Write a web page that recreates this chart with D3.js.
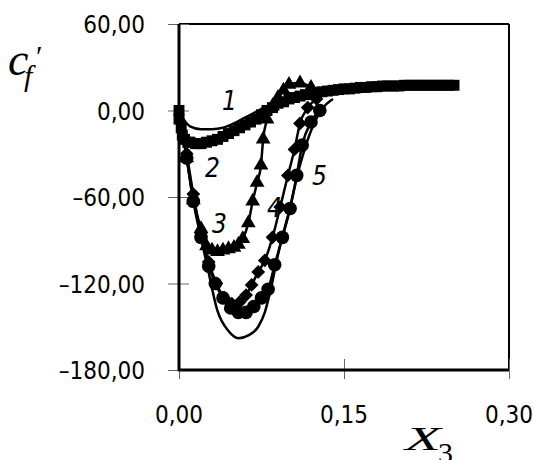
<!DOCTYPE html>
<html>
<head>
<meta charset="utf-8">
<script src="https://cdn.jsdelivr.net/npm/d3@7"></script>
<style>
  body { margin: 0; background: #fff; }
  .tick-lbl { font-family: "DejaVu Sans Condensed", "DejaVu Sans", sans-serif; font-stretch: condensed; font-size: 24px; fill: #000; }
  .curve-lbl { font-family: "DejaVu Sans Condensed", "DejaVu Sans", sans-serif; font-stretch: condensed; font-style: italic; font-size: 26px; fill: #000; }
  .ax-lbl { font-family: "Liberation Serif", "DejaVu Serif", serif; fill: #000; }
</style>
</head>
<body>
<div id="chart"></div>
<script>
// #####################################################
// Data
//
var xTicks = [0, 0.15, 0.30];
var yTicks = [60, 0, -60, -120, -180];

// squares
var sqX = [0, 0, 0.002, 0.003, 0.005, 0.008, 0.01, 0.015, 0.02, 0.025, 0.03, 0.035, 0.04, 0.045, 0.05, 0.055, 0.06, 0.065, 0.07, 0.075, 0.08, 0.085, 0.09, 0.095, 0.1, 0.105, 0.11, 0.115, 0.12, 0.125, 0.13, 0.135, 0.14, 0.145, 0.15, 0.155, 0.16, 0.165, 0.17, 0.175, 0.18, 0.185, 0.19, 0.195, 0.2, 0.205, 0.21, 0.215, 0.22, 0.225, 0.23, 0.235, 0.24, 0.245, 0.25];
var sqY = [0, -6, -12, -17, -20, -22, -22, -23, -23, -22, -21, -20, -18, -16, -14, -12, -10, -8, -6, -3, 0, 2, 5, 6, 8, 9, 10, 11, 12, 12.5, 13, 13.5, 14, 14.5, 15, 15, 15.5, 16, 16, 16.5, 16.5, 17, 17, 17, 17, 17.5, 17.5, 17.5, 17.5, 17.5, 17.5, 17.5, 17.5, 17.5, 17.5];

// triangles
var triX = [0.007, 0.013, 0.02, 0.025, 0.03, 0.035, 0.04, 0.045, 0.05, 0.054, 0.058, 0.063, 0.067, 0.071, 0.0745, 0.0765, 0.08, 0.085, 0.09, 0.095, 0.1, 0.11, 0.12];
var triY = [-33, -62, -82, -94, -97, -98, -97, -96, -95, -93, -89, -78, -63, -50, -38, -20, -6, 3, 9, 14, 18, 19, 16];

// circles
var cirX = [0.007, 0.013, 0.02, 0.027, 0.033, 0.04, 0.047, 0.054, 0.061, 0.068, 0.075, 0.081, 0.087, 0.094, 0.101, 0.107, 0.112, 0.12, 0.128];
var cirY = [-33, -63, -88, -108, -120, -130, -137, -140, -140, -136, -130, -124, -107, -88, -68, -45, -24, -8, 0];

// diamonds
var diaX = [0.007, 0.013, 0.02, 0.027, 0.034, 0.041, 0.048, 0.055, 0.061, 0.066, 0.072, 0.078, 0.085, 0.092, 0.099, 0.105, 0.11, 0.117, 0.125];
var diaY = [-30, -58, -85, -105, -120, -130, -134, -133, -128, -121, -112, -104, -88, -67, -45, -27, -9, 2, 8];

// curves without own markers
var c1X = [0, 0.005, 0.01, 0.02, 0.03, 0.04, 0.05, 0.06, 0.07, 0.08, 0.09, 0.1, 0.12, 0.15, 0.2, 0.25];
var c1Y = [0, -7, -11, -13, -13, -12, -9, -5, -1, 3, 6, 9, 12, 15, 17, 18];
var c3X = [0, 0.007, 0.013, 0.02, 0.026, 0.035, 0.045, 0.054, 0.063, 0.072, 0.078, 0.084, 0.09, 0.1, 0.11, 0.12, 0.13, 0.14];
var c3Y = [0, -33, -60, -88, -109, -139, -153, -158, -156, -150, -140, -122, -100, -70, -38, -14, 1, 8];

var curveLabels = ['1', '2', '3', '4', '5'];

// #####################################################
// Plot
//
var width = 533, height = 460;
var svg = d3.select('#chart').append('svg')
    .attr('width', width)
    .attr('height', height);

var x = d3.scaleLinear().domain([0, 0.30]).range([179, 509]);
var y = d3.scaleLinear().domain([-180, 60]).range([370, 24]);

function zip(xs, ys) {
  return xs.map(function (v, i) { return {x: v, y: ys[i]}; });
}

var line = d3.line()
    .x(function (d) { return x(d.x); })
    .y(function (d) { return y(d.y); })
    .curve(d3.curveMonotoneX);

// frame: top and right thinner
svg.append('line').attr('x1', 179).attr('x2', 509).attr('y1', 24).attr('y2', 24)
    .style('stroke', '#000').attr('stroke-width', 2);
svg.append('line').attr('x1', 509).attr('x2', 509).attr('y1', 24).attr('y2', 370)
    .style('stroke', '#000').attr('stroke-width', 2);

// Y axis ticks (crossing)
var gy = svg.append('g')
    .attr('transform', 'translate(179,0)')
    .call(d3.axisLeft(y).tickValues(yTicks).tickSize(11).tickFormat(''));
gy.select('.domain').remove();
gy.selectAll('.tick line').attr('x1', 10).style('stroke', '#666').attr('stroke-width', 1);

// X axis ticks (crossing)
var gx = svg.append('g')
    .attr('transform', 'translate(0,370)')
    .call(d3.axisBottom(x).tickValues(xTicks).tickSize(9).tickFormat(''));
gx.select('.domain').remove();
gx.selectAll('.tick line').attr('y1', -11).style('stroke', '#666').attr('stroke-width', 1);

// tick labels
svg.selectAll('text.ylbl')
    .data(yTicks)
    .enter().append('text')
      .attr('class', 'tick-lbl')
      .attr('x', 145)
      .attr('y', function (d) { return y(d) + 9; })
      .style('text-anchor', 'end')
      .text(function (d) { return (d < 0 ? '\u2013' : '') + Math.abs(d).toFixed(2).replace('.', ','); });

svg.selectAll('text.xlbl')
    .data(xTicks)
    .enter().append('text')
      .attr('class', 'tick-lbl')
      .attr('x', function (d) { return x(d); })
      .attr('y', 423)
      .style('text-anchor', 'middle')
      .text(function (d) { return d.toFixed(2).replace('.', ','); });

// left and bottom axis lines (thick)
svg.append('line').attr('x1', 179).attr('x2', 179).attr('y1', 24).attr('y2', 371)
    .style('stroke', '#000').attr('stroke-width', 3);
svg.append('line').attr('x1', 178).attr('x2', 509).attr('y1', 370).attr('y2', 370)
    .style('stroke', '#000').attr('stroke-width', 3);

// curves
var curves = [
  zip(c1X, c1Y),
  zip([0].concat(triX), [0].concat(triY)),
  zip(c3X, c3Y),
  zip([0].concat(diaX), [0].concat(diaY)),
  zip([0].concat(cirX), [0].concat(cirY))
];
svg.selectAll('path.curve')
    .data(curves)
    .enter().append('path')
      .attr('class', 'curve')
      .attr('d', line)
      .style('fill', 'none')
      .style('stroke', '#000')
      .attr('stroke-width', 2.5);

// markers
function addMarkers(data, type, size, rot) {
  svg.selectAll(null)
      .data(data)
      .enter().append('path')
        .attr('d', d3.symbol().type(type).size(size))
        .style('fill', '#000')
        .attr('transform', function (d) {
          return 'translate(' + x(d.x) + ',' + y(d.y) + ')' + (rot ? ' rotate(' + rot + ')' : '');
        });
}
addMarkers(zip(sqX, sqY), d3.symbolSquare, 120, 0);
addMarkers(zip(diaX, diaY), d3.symbolSquare, 95, 45);
addMarkers(zip(cirX, cirY), d3.symbolCircle, 145, 0);
addMarkers(zip(triX, triY), d3.symbolTriangle, 95, 0);

// curve numbers
var lblPos = [[222, 110], [205, 177], [212, 233], [267, 217], [312, 185]];
svg.selectAll('text.clbl')
    .data(curveLabels)
    .enter().append('text')
      .attr('class', 'curve-lbl')
      .attr('x', function (d, i) { return lblPos[i][0]; })
      .attr('y', function (d, i) { return lblPos[i][1]; })
      .text(function (d) { return d; });

// axis titles
svg.append('text').attr('class', 'ax-lbl')
    .attr('x', 8).attr('y', 75)
    .style('font-size', '46px').style('font-style', 'italic')
    .text('c');
svg.append('text').attr('class', 'ax-lbl')
    .attr('x', 36).attr('y', 66)
    .style('font-size', '30px')
    .text('\u2032');
svg.append('text').attr('class', 'ax-lbl')
    .attr('x', 24).attr('y', 86)
    .style('font-size', '30px').style('font-style', 'italic')
    .text('f');

svg.append('text').attr('class', 'ax-lbl')
    .attr('x', 405).attr('y', 450)
    .style('font-size', '34px').style('font-style', 'italic')
    .attr('textLength', 36).attr('lengthAdjust', 'spacingAndGlyphs')
    .text('X');
svg.append('text').attr('class', 'ax-lbl')
    .attr('x', 438).attr('y', 463)
    .style('font-size', '30px')
    .text('3');
</script>
</body>
</html>
